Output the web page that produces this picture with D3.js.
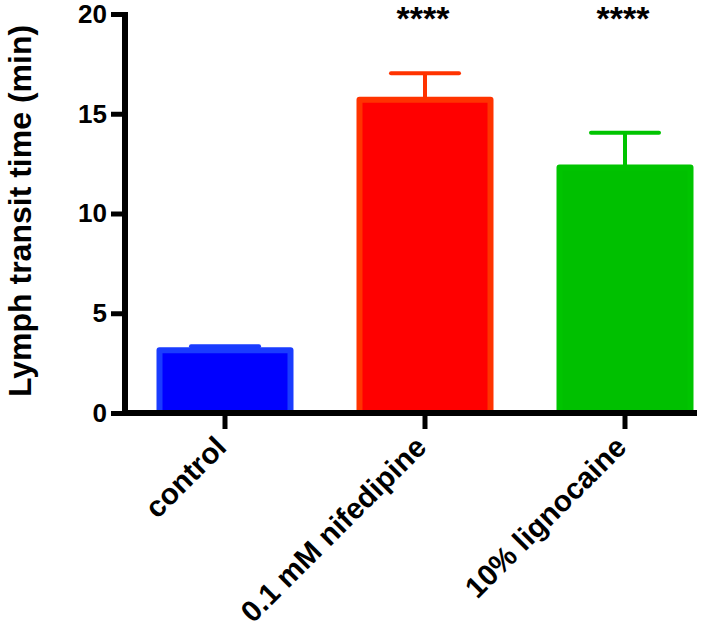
<!DOCTYPE html>
<html>
<head>
<meta charset="utf-8">
<script src="https://cdn.jsdelivr.net/npm/d3@7"></script>
<style>
  html, body { margin: 0; padding: 0; background: #fff; }
  svg { display: block; font-family: "Liberation Sans", Arial, Helvetica, sans-serif; }
</style>
</head>
<body>
<svg id="chart" width="728" height="631"></svg>
<script>
const categories = ["control", "0.1 mM nifedipine", "10% lignocaine"];
const means = [3.15, 15.7, 12.3];
const sems = [0.2, 1.33, 1.75];
const significance = ["", "****", "****"];
const fillColors = ["#0000ff", "#ff0000", "#00c000"];
const strokeColors = ["#1a3cff", "#ff3300", "#00c400"];
const yTicks = [0, 5, 10, 15, 20];
const yLabel = "Lymph transit time (min)";

const svg = d3.select("#chart");

const x = d3.scaleBand().domain(categories).range([125, 725])
  .paddingInner(0.345).paddingOuter(0.1725);
const y = d3.scaleLinear().domain([0, 20]).range([413, 14]);

const data = categories.map((c, i) => ({c, m: means[i], s: sems[i], sig: significance[i], fill: fillColors[i], stroke: strokeColors[i]}));

// error bars (upper only)
const eb = svg.append("g");
data.forEach(d => {
  const cx = x(d.c) + x.bandwidth() / 2;
  eb.append("line").attr("x1", cx).attr("x2", cx).attr("y1", y(d.m)).attr("y2", y(d.m + d.s))
    .attr("stroke", d.stroke).attr("stroke-width", 4);
  eb.append("line").attr("x1", cx - 34).attr("x2", cx + 34).attr("y1", y(d.m + d.s)).attr("y2", y(d.m + d.s))
    .attr("stroke", d.stroke).attr("stroke-width", 4).attr("stroke-linecap", "round");
});

// bars
svg.append("g").selectAll("rect").data(data).join("rect")
  .attr("x", d => x(d.c))
  .attr("width", x.bandwidth())
  .attr("y", d => y(d.m))
  .attr("height", d => y(0) - y(d.m))
  .attr("fill", d => d.fill)
  .attr("stroke", d => d.stroke)
  .attr("stroke-width", 6)
  .attr("stroke-linejoin", "round");

// significance
svg.append("g").selectAll("text").data(data).join("text")
  .attr("x", d => x(d.c) + x.bandwidth() / 2 - 2)
  .attr("y", 30)
  .attr("text-anchor", "middle")
  .attr("font-size", 34)
  .attr("font-weight", "bold")
  .text(d => d.sig);

// y axis
const yAxis = svg.append("g").attr("transform", "translate(125,0)")
  .call(d3.axisLeft(y).tickValues(yTicks).tickSize(14).tickSizeOuter(0).tickPadding(4));
yAxis.select(".domain").remove();
yAxis.selectAll(".tick line").attr("stroke", "#000").attr("stroke-width", 5);
yAxis.selectAll(".tick text").attr("font-size", 26).attr("font-weight", "bold").attr("fill", "#000")
  .attr("font-family", "Liberation Sans, Arial, sans-serif");
svg.append("line").attr("x1", 125).attr("x2", 125).attr("y1", y(20) - 2).attr("y2", y(0) + 2.5)
  .attr("stroke", "#000").attr("stroke-width", 6);

// x axis
const xAxis = svg.append("g").attr("transform", "translate(0,413)")
  .call(d3.axisBottom(x).tickSize(16).tickSizeOuter(0).tickFormat(""));
xAxis.select(".domain").remove();
xAxis.selectAll(".tick line").attr("stroke", "#000").attr("stroke-width", 5);
svg.append("line").attr("x1", 122).attr("x2", 697).attr("y1", 413).attr("y2", 413)
  .attr("stroke", "#000").attr("stroke-width", 6);

// category labels
svg.append("g").selectAll("text").data(categories).join("text")
  .attr("transform", c => `translate(${x(c) + x.bandwidth() / 2 + 3},449) rotate(-45)`)
  .attr("text-anchor", "end")
  .attr("font-size", 29.5)
  .attr("font-weight", "bold")
  .text(c => c);

// y label
svg.append("text")
  .attr("transform", "translate(31,211) rotate(-90)")
  .attr("text-anchor", "middle")
  .attr("font-size", 32)
  .attr("font-weight", "bold")
  .text(yLabel);
</script>
</body>
</html>
